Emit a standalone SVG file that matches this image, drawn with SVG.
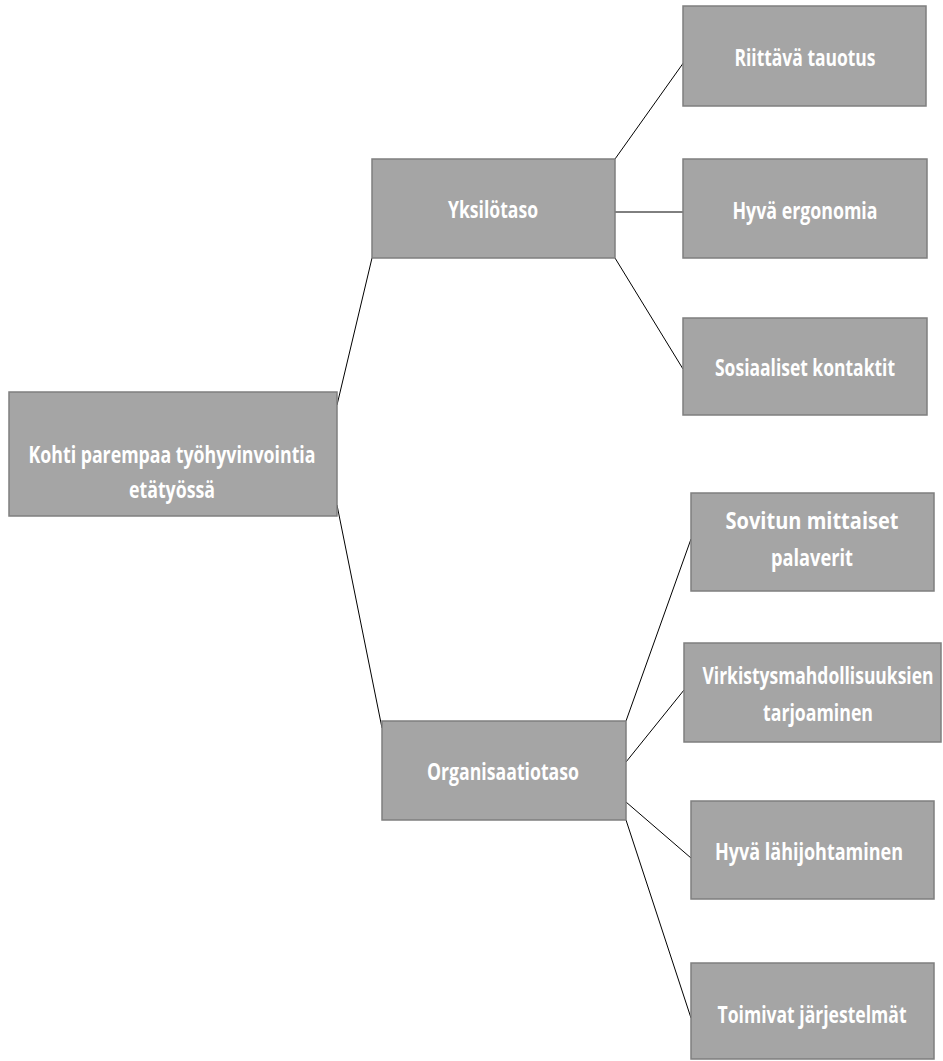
<svg xmlns="http://www.w3.org/2000/svg" width="943" height="1061" viewBox="0 0 943 1061">
<style>
.box{fill:#a5a5a5;stroke:#7f7f7f;stroke-width:1.5}
.lbl{font-family:"Open Sans","Liberation Sans",sans-serif;font-weight:bold;font-size:24px;fill:#ffffff;text-anchor:middle}
.conn line{stroke:#000000;stroke-width:1}
</style>
<rect width="943" height="1061" fill="#ffffff"/>
<g class="conn" id="connectors">
<line x1="337" y1="405" x2="372" y2="258"/>
<line x1="337" y1="505" x2="382" y2="728"/>
<line x1="615" y1="159" x2="684" y2="62"/>
<line x1="615" y1="212" x2="683" y2="212"/>
<line x1="615" y1="258" x2="683" y2="369"/>
<line x1="626" y1="721" x2="691" y2="539"/>
<line x1="626" y1="762" x2="684" y2="690"/>
<line x1="626" y1="802" x2="691" y2="858"/>
<line x1="626" y1="820" x2="691" y2="1018"/>
</g>
<g id="root">
<rect class="box" x="9" y="392" width="328" height="124"/>
<text class="lbl" x="172" y="463" textLength="287" lengthAdjust="spacingAndGlyphs">Kohti parempaa työhyvinvointia</text>
<text class="lbl" x="172" y="498" textLength="86" lengthAdjust="spacingAndGlyphs">etätyössä</text>
</g>
<g id="yksilotaso">
<rect class="box" x="372" y="159" width="243" height="99"/>
<text class="lbl" x="493" y="218" textLength="90" lengthAdjust="spacingAndGlyphs">Yksilötaso</text>
</g>
<g id="organisaatiotaso">
<rect class="box" x="382" y="721" width="244" height="99"/>
<text class="lbl" x="503" y="780" textLength="152" lengthAdjust="spacingAndGlyphs">Organisaatiotaso</text>
</g>
<g id="riittava">
<rect class="box" x="683" y="6" width="243" height="100"/>
<text class="lbl" x="805" y="66" textLength="141" lengthAdjust="spacingAndGlyphs">Riittävä tauotus</text>
</g>
<g id="ergonomia">
<rect class="box" x="683" y="159" width="244" height="99"/>
<text class="lbl" x="805" y="219" textLength="145" lengthAdjust="spacingAndGlyphs">Hyvä ergonomia</text>
</g>
<g id="kontaktit">
<rect class="box" x="683" y="318" width="244" height="97"/>
<text class="lbl" x="805" y="376" textLength="180" lengthAdjust="spacingAndGlyphs">Sosiaaliset kontaktit</text>
</g>
<g id="palaverit">
<rect class="box" x="691" y="493" width="243" height="98"/>
<text class="lbl" x="812" y="529" textLength="173" lengthAdjust="spacingAndGlyphs">Sovitun mittaiset</text>
<text class="lbl" x="812" y="566" textLength="82" lengthAdjust="spacingAndGlyphs">palaverit</text>
</g>
<g id="virkistys">
<rect class="box" x="684" y="643" width="257" height="99"/>
<text class="lbl" x="818" y="684" textLength="231" lengthAdjust="spacingAndGlyphs">Virkistysmahdollisuuksien</text>
<text class="lbl" x="818" y="721" textLength="110" lengthAdjust="spacingAndGlyphs">tarjoaminen</text>
</g>
<g id="lahijohtaminen">
<rect class="box" x="691" y="801" width="243" height="98"/>
<text class="lbl" x="809" y="860" textLength="188" lengthAdjust="spacingAndGlyphs">Hyvä lähijohtaminen</text>
</g>
<g id="jarjestelmat">
<rect class="box" x="691" y="963" width="243" height="96"/>
<text class="lbl" x="812" y="1023" textLength="189" lengthAdjust="spacingAndGlyphs">Toimivat järjestelmät</text>
</g>
</svg>
